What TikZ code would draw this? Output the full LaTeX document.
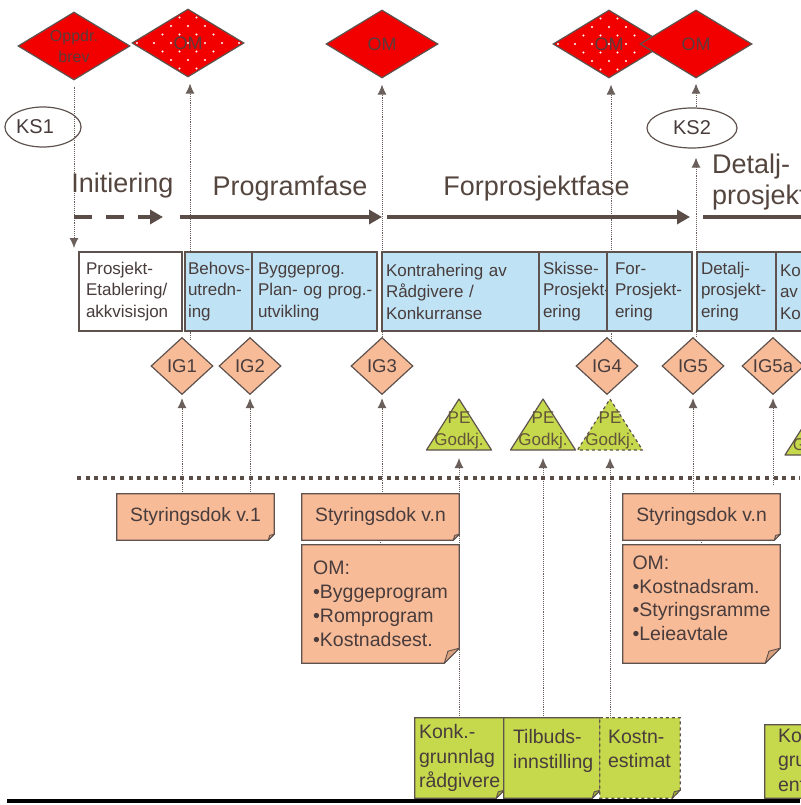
\documentclass[tikz,border=0pt]{standalone}
\usepackage{fontspec}
\setmainfont{Liberation Sans}
\usetikzlibrary{shapes.geometric, arrows.meta, calc}

\definecolor{bordc}{HTML}{5E524E}
\definecolor{linec}{HTML}{6A5F5B}
\definecolor{darkc}{HTML}{5A4D48}
\definecolor{txt}{HTML}{483C3C}
\definecolor{phtxt}{HTML}{54463F}
\definecolor{omred}{HTML}{F20000}
\definecolor{omtext}{HTML}{5C3A3A}
\definecolor{igor}{HTML}{F8BB98}
\definecolor{orfold}{HTML}{D9A07E}
\definecolor{boxblue}{HTML}{BFE3F4}
\definecolor{pegreen}{HTML}{C6D84C}
\definecolor{greenfold}{HTML}{9FAE37}
\definecolor{petext}{HTML}{62553A}

\pgfdeclarelayer{lines}
\pgfdeclarelayer{shapes}
\pgfsetlayers{lines,shapes,main}

% sheet with a folded lower right corner, drawn behind the node text
\newcommand\notefold[5]{%
  \begin{pgfonlayer}{shapes}
    \draw[draw=bordc, line width=1.2pt, fill=#3, #5]
      (#1.north west) -- (#1.north east) -- ([yshift=#2]#1.south east)
      -- ([xshift=-#2]#1.south east) -- (#1.south west) -- cycle;
    \draw[draw=bordc, line width=0.9pt, fill=#4, line join=round]
      ([yshift=#2]#1.south east) -- ([xshift=-#2]#1.south east)
      -- ([xshift=-0.75*#2, yshift=0.8*#2]#1.south east) -- cycle;
  \end{pgfonlayer}}

% approval triangle around a PE label
\newcommand\petri[2]{%
  \begin{pgfonlayer}{shapes}
    \draw[draw=bordc, line width=1.2pt, fill=pegreen, line join=round, #2]
      ($(#1)+(0,-31)$) -- ($(#1)+(32.5,20)$) -- ($(#1)+(-32.5,20)$) -- cycle;
  \end{pgfonlayer}}

% one unbreakable text line
\newcommand\oneline[1]{\mbox{#1}}

\begin{document}
\begin{tikzpicture}[x=1pt, y=-1pt,
  reddia/.style={diamond, aspect=1.65, minimum width=112pt, minimum height=68pt,
    inner sep=0pt, fill=omred, draw=bordc, line width=1.2pt, text=omtext,
    align=center, font=\fontsize{18}{20}\selectfont},
  dotfill/.style={path picture={
    \foreach \i in {-4,...,4}{
      \foreach \j in {-4,-2,...,4}{
        \fill[white] ($(path picture bounding box.center)+(\i*17,\j*8.5)$) circle (1.1pt);}
      \foreach \j in {-3,-1,...,3}{
        \fill[white] ($(path picture bounding box.center)+(\i*17+8.5,\j*8.5)$) circle (1.1pt);}
    }}},
  igdia/.style={diamond, aspect=1.1, minimum width=62pt, minimum height=57pt,
    inner sep=0pt, fill=igor, draw=bordc, line width=1.2pt, text=txt,
    font=\fontsize{18.5}{20}\selectfont},
  ksell/.style={ellipse, minimum height=40pt, inner sep=0pt, draw=bordc,
    line width=1.2pt, text=txt, font=\fontsize{20}{22}\selectfont},
  phlabel/.style={text=phtxt, font=\fontsize{27}{31}\selectfont, inner sep=0pt},
  procbox/.style={rectangle, draw=bordc, line width=1.2pt, fill=boxblue,
    minimum height=79pt, inner ysep=0pt, align=left, text=txt,
    font=\fontsize{17}{21.5}\selectfont},
  notetxt/.style={inner ysep=0pt, text=txt, font=\fontsize{19.3}{24}\selectfont},
  greentxt/.style={inner ysep=0pt, align=left, text=txt, minimum height=80pt,
    font=\fontsize{19.5}{24.5}\selectfont},
  petxt/.style={text=petext, align=center, inner sep=0pt,
    font=\fontsize{17}{22}\selectfont},
  edge/.style={draw=linec, line width=0.9pt, densely dotted},
  upar/.style={edge, -{Latex[length=10pt,width=9pt]}, shorten >=3pt},
  dnar/.style={edge, -{Latex[length=10pt,width=9pt]}, shorten <=6pt},
  phasear/.style={draw=darkc, line width=4pt, -{Triangle[length=13pt,width=14pt]}},
  hdots/.style={draw=darkc, line width=4pt, dash pattern=on 4pt off 4.6pt},
]
\useasboundingbox (0,0) rectangle (800,805);

% decision diamonds along the top
\node[reddia, font=\fontsize{16}{21}\selectfont] (dOpp) at (74,46) {Oppdr.\\brev};
\node[reddia, dotfill] (dOM1) at (188,43) {OM};
\node[reddia] (dOM2) at (382,44) {OM};
\node[reddia, dotfill] (dOM3) at (609,44) {OM};
\node[reddia] (dOM4) at (696,44) {OM};

% quality checkpoints
\node[ksell, minimum width=74pt] (ks1) at (43,127) {KS1\hspace*{16pt}};
\node[ksell, minimum width=90pt] (ks2) at (692,128) {KS2};

% phase names
\node[phlabel, anchor=base] (lInit) at (122.5,193) {Initiering};
\node[phlabel, anchor=base] (lProg) at (290,195) {Programfase};
\node[phlabel, anchor=base] (lFor) at (536.5,195) {Forprosjektfase};
\node[phlabel, anchor=west, align=left] (lDet) at (712,182) {Detalj-\\prosjektering};

% phase arrows
\coordinate (ph0) at (74,217);
\coordinate (ph1) at (163,217);
\coordinate (ph2) at (180,217);
\coordinate (ph3) at (382,217);
\coordinate (ph4) at (387,217);
\coordinate (ph5) at (690,217);
\coordinate (ph6) at (703,217);
\coordinate (ph7) at (860,217);
\draw[phasear, dash pattern=on 18pt off 14pt] (ph0) -- (ph1);
\draw[phasear] (ph2) -- (ph3);
\draw[phasear] (ph4) -- (ph5);
\draw[phasear] (ph6) -- (ph7);

% activity row
\node[procbox, fill=white, minimum width=103pt, text width=89pt, inner xsep=7pt] (b1) at (130.5,291.5) {\oneline{Prosjekt-}\\\oneline{Etablering/}\\\oneline{akkvisisjon}};
\node[procbox, minimum width=67pt, text width=61pt, inner xsep=3pt] (b2) at (218.5,291.5) {\oneline{Behovs-}\\\oneline{utredn-}\\\oneline{ing}};
\node[procbox, minimum width=125pt, text width=113pt, inner xsep=6pt] (b3) at (314.5,291.5) {\oneline{Byggeprog.}\\\oneline{Plan- og prog.-}\\\oneline{utvikling}};
\node[procbox, minimum width=157pt, text width=149pt, inner xsep=4pt] (b4) at (460.5,291.5) {\oneline{Kontrahering av}\\\oneline{Rådgivere /}\\\oneline{Konkurranse}};
\node[procbox, minimum width=68pt, text width=60pt, inner xsep=4pt] (b5) at (573,291.5) {\oneline{Skisse-}\\\oneline{Prosjekt-}\\\oneline{ering}};
\node[procbox, minimum width=85pt, text width=69pt, inner xsep=8pt] (b6) at (649.5,291.5) {\oneline{For-}\\\oneline{Prosjekt-}\\\oneline{ering}};
\node[procbox, minimum width=79pt, text width=71pt, inner xsep=4pt] (b7) at (736.5,291.5) {\oneline{Detalj-}\\\oneline{prosjekt-}\\\oneline{ering}};
\node[procbox, minimum width=74pt, text width=66pt, inner xsep=4pt] (b8) at (813,291.5) {\oneline{Kontrahering}\\\oneline{av entreprenør}\\\oneline{Konkurranse}};

% investment gates
\node[igdia] (ig1) at (182,366) {IG1};
\node[igdia] (ig2) at (250,366) {IG2};
\node[igdia] (ig3) at (382,366) {IG3};
\node[igdia] (ig4) at (607,366) {IG4};
\node[igdia] (ig5) at (693,366) {IG5};
\node[igdia] (ig5a) at (773,366) {IG5a};

% project owner approvals
\node[petxt] (pe1) at (459,430) {PE\\Godkj.};
\node[petxt] (pe2) at (543,430) {PE\\Godkj.};
\node[petxt] (pe3) at (610,430) {PE\\Godkj.};
\node[petxt] (pe4) at (817.5,435) {PE\\Godkj.};
\petri{pe1}{}
\petri{pe2}{}
\petri{pe3}{dashed}
\petri{pe4}{}
\coordinate (pe1b) at ($(pe1)+(0,20)$);
\coordinate (pe2b) at ($(pe2)+(0,20)$);
\coordinate (pe3b) at ($(pe3)+(0,20)$);

% separator
\coordinate (hd0) at (77,478);
\coordinate (hd1) at (800,478);
\draw[hdots] (hd0) -- (hd1);

% governing documents
\node[notetxt, minimum width=157pt, minimum height=46pt] (sd1) at (195.5,517) {Styringsdok v.1};
\node[notetxt, minimum width=157pt, minimum height=46pt] (sdn1) at (380.5,517) {Styringsdok v.n};
\node[notetxt, align=left, minimum width=157pt, minimum height=118pt, font=\fontsize{19.5}{24}\selectfont] (om1) at (380.5,604) {OM:\\•Byggeprogram\\•Romprogram\\•Kostnadsest.};
\node[notetxt, minimum width=157pt, minimum height=46pt] (sdn2) at (701.5,517) {Styringsdok v.n};
\node[notetxt, align=left, minimum width=157pt, minimum height=118pt, font=\fontsize{19.5}{23.5}\selectfont] (om2) at (701.5,604) {OM:\\•Kostnadsram.\\•Styringsramme\\•Leieavtale\\[-12pt]\mbox{}};
\notefold{sd1}{6pt}{igor}{orfold}{}
\notefold{sdn1}{6pt}{igor}{orfold}{}
\notefold{om1}{15pt}{igor}{orfold}{}
\notefold{sdn2}{6pt}{igor}{orfold}{}
\notefold{om2}{15pt}{igor}{orfold}{}

% tender documents
\node[greentxt, minimum width=89pt, text width=81pt, inner xsep=4pt] (gKonk) at (459.5,758) {\oneline{Konk.-}\\\oneline{grunnlag}\\\oneline{rådgivere}};
\node[greentxt, minimum width=96pt, text width=78pt, inner xsep=9pt] (gTilb) at (552,758) {\oneline{Tilbuds-}\\\oneline{innstilling}\\[-6pt]\mbox{}};
\node[greentxt, minimum width=80pt, text width=64pt, inner xsep=8pt] (gKost) at (640,758) {\oneline{Kostn-}\\\oneline{estimat}\\[-6pt]\mbox{}};
\node[greentxt, minimum width=104pt, minimum height=73pt, text width=78pt, inner xsep=13pt] (gRight) at (817,761.5) {\oneline{Konk.-}\\\oneline{grunnlag}\\\oneline{entreprenør}};
\notefold{gKonk}{8pt}{pegreen}{greenfold}{}
\notefold{gTilb}{8pt}{pegreen}{greenfold}{}
\notefold{gKost}{8pt}{pegreen}{greenfold}{dashed}
\notefold{gRight}{8pt}{pegreen}{greenfold}{}

% baseline
\coordinate (bl0) at (7,801);
\coordinate (bl1) at (800,801);
\draw[black, line width=4pt] (bl0) -- (bl1);

% dotted connectors
\coordinate (oppEnd) at (74,248);
\coordinate (om1src) at (190,340);
\coordinate (om3src) at (611,341);
\coordinate (ig5aSrc) at (773,485);
\begin{pgfonlayer}{lines}
  \draw[dnar] (dOpp.south) -- (oppEnd);
  \draw[upar, shorten >=6pt] (om1src) -- (om1src |- dOM1.south);
  \draw[upar, shorten >=6pt] (ig3.north) -- (dOM2.south);
  \draw[upar, shorten >=6pt] (om3src) -- (om3src |- dOM3.south);
  \draw[upar, shorten >=9pt] (ig5.north -| dOM4) -- (ks2.south -| dOM4);
  \draw[upar, shorten >=5pt] (ks2.north -| dOM4) -- (dOM4.south);
  \draw[upar] (sd1.north -| ig1) -- (ig1.south);
  \draw[upar] (sd1.north -| ig2) -- (ig2.south);
  \draw[upar] (sdn1.north -| ig3) -- (ig3.south);
  \draw[upar] (sdn2.north -| ig5) -- (ig5.south);
  \draw[upar] (ig5aSrc) -- (ig5a.south);
  \draw[edge] (sdn1.south) -- (om1.north);
  \draw[edge] (sdn2.south) -- (om2.north);
  \draw[upar, shorten >=8pt] (gKonk.north -| pe1b) -- (pe1b);
  \draw[upar, shorten >=8pt] (gTilb.north -| pe2b) -- (pe2b);
  \draw[upar, shorten >=8pt] (gKost.north -| pe3b) -- (pe3b);
\end{pgfonlayer}
\end{tikzpicture}
\end{document}
